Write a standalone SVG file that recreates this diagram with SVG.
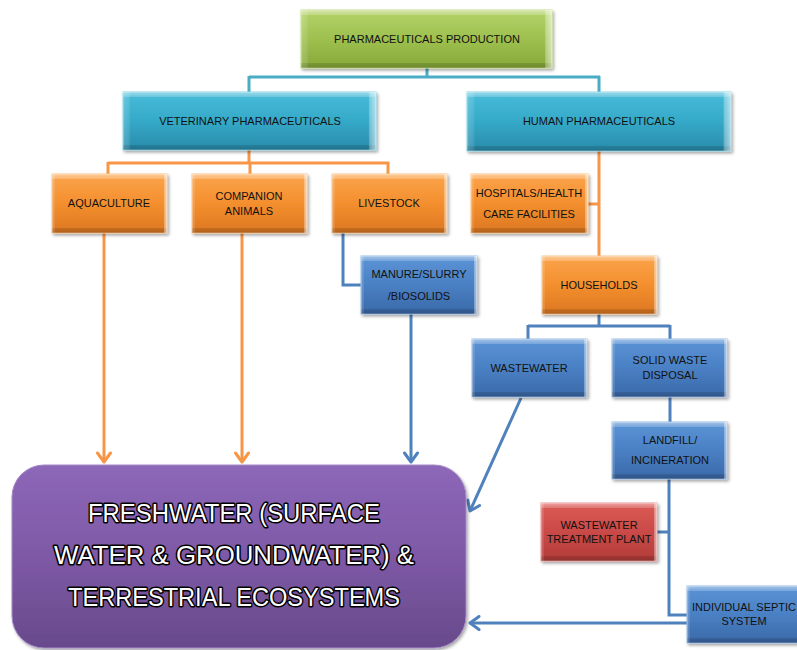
<svg xmlns="http://www.w3.org/2000/svg" width="797" height="650" viewBox="0 0 797 650">
  <style>
    .lbl { font-family: "Liberation Sans", Arial, sans-serif; font-size: 11px; fill: #111111; text-anchor: middle; }
    .big { font-family: "Liberation Sans", Arial, sans-serif; font-size: 25px; fill: #ffffff; stroke: #000000; stroke-width: 3px; paint-order: stroke; text-anchor: middle; stroke-linejoin: round; }
    .box { filter: url(#shadow); }
    .bv { fill: url(#bevelV); pointer-events: none; }
    .bh { fill: url(#bevelH); pointer-events: none; }
    .teal-line { stroke: #4bacc6; stroke-width: 3; fill: none; }
    .orange-line { stroke: #f79646; stroke-width: 3; fill: none; }
    .blue-line { stroke: #4f81bd; stroke-width: 3; fill: none; }
  </style>
  <defs>
    <filter id="shadow" x="-10%" y="-10%" width="125%" height="130%">
      <feDropShadow dx="1.5" dy="2" stdDeviation="1.5" flood-color="#000" flood-opacity="0.35"/>
    </filter>
    <!-- bevel overlays: light top edge, dark bottom edge, light side edges -->
    <linearGradient id="bevelV" x1="0" y1="0" x2="0" y2="1">
      <stop offset="0" stop-color="#fff" stop-opacity="0.45"/>
      <stop offset="0.08" stop-color="#fff" stop-opacity="0.2"/>
      <stop offset="0.09" stop-color="#fff" stop-opacity="0"/>
      <stop offset="0.91" stop-color="#000" stop-opacity="0"/>
      <stop offset="0.92" stop-color="#000" stop-opacity="0.12"/>
      <stop offset="1" stop-color="#000" stop-opacity="0.2"/>
    </linearGradient>
    <linearGradient id="bevelH" x1="0" y1="0" x2="1" y2="0">
      <stop offset="0" stop-color="#fff" stop-opacity="0.2"/>
      <stop offset="0.025" stop-color="#fff" stop-opacity="0.1"/>
      <stop offset="0.03" stop-color="#fff" stop-opacity="0"/>
      <stop offset="0.97" stop-color="#fff" stop-opacity="0"/>
      <stop offset="0.975" stop-color="#fff" stop-opacity="0.3"/>
      <stop offset="1" stop-color="#fff" stop-opacity="0.6"/>
    </linearGradient>
    <linearGradient id="gGreen" x1="0" y1="0" x2="0" y2="1">
      <stop offset="0" stop-color="#b4d36a"/>
      <stop offset="0.5" stop-color="#9dc04f"/>
      <stop offset="1" stop-color="#86a93a"/>
    </linearGradient>
    <linearGradient id="gTeal" x1="0" y1="0" x2="0" y2="1">
      <stop offset="0" stop-color="#48bcd9"/>
      <stop offset="0.5" stop-color="#35a9c8"/>
      <stop offset="1" stop-color="#2a8bab"/>
    </linearGradient>
    <linearGradient id="gOrange" x1="0" y1="0" x2="0" y2="1">
      <stop offset="0" stop-color="#fba44c"/>
      <stop offset="0.5" stop-color="#f48f2e"/>
      <stop offset="1" stop-color="#dc7722"/>
    </linearGradient>
    <linearGradient id="gBlue" x1="0" y1="0" x2="0" y2="1">
      <stop offset="0" stop-color="#5b94d6"/>
      <stop offset="0.5" stop-color="#4a80c4"/>
      <stop offset="1" stop-color="#3a69a8"/>
    </linearGradient>
    <linearGradient id="gRed" x1="0" y1="0" x2="0" y2="1">
      <stop offset="0" stop-color="#dc5a56"/>
      <stop offset="0.5" stop-color="#c94a47"/>
      <stop offset="1" stop-color="#b23c39"/>
    </linearGradient>
    <linearGradient id="gPurple" x1="0" y1="0" x2="0" y2="1">
      <stop offset="0" stop-color="#8d67b8"/>
      <stop offset="0.5" stop-color="#7e59a6"/>
      <stop offset="1" stop-color="#684a8b"/>
    </linearGradient>
    <marker id="arrOrange" markerUnits="userSpaceOnUse" markerWidth="16" markerHeight="16" refX="12" refY="8" orient="auto">
      <path d="M3 1.5 L12 8 L3 14.5" fill="none" stroke="#f79646" stroke-width="3" stroke-linejoin="round" stroke-linecap="round"/>
    </marker>
    <marker id="arrBlue" markerUnits="userSpaceOnUse" markerWidth="16" markerHeight="16" refX="12" refY="8" orient="auto">
      <path d="M3 1.5 L12 8 L3 14.5" fill="none" stroke="#4f81bd" stroke-width="3" stroke-linejoin="round" stroke-linecap="round"/>
    </marker>
  </defs>

  <rect width="797" height="650" fill="#ffffff"/>

  <!-- connectors -->
  <g id="connectors">
    <path class="teal-line" d="M427 68 V77 M249 77 H600 M249 76 V92 M599 76 V92"/>
    <path class="orange-line" d="M249 150 V163 M108 163 H389 M108 162 V174 M250 162 V174 M388 162 V174"/>
    <path class="orange-line" d="M599 151 V256 M588 204 H599"/>
    <path class="orange-line" d="M104 233 V462" marker-end="url(#arrOrange)"/>
    <path class="orange-line" d="M242 233 V462" marker-end="url(#arrOrange)"/>
    <path class="blue-line" d="M343 233 V285 H361"/>
    <path class="blue-line" d="M411 314 V462" marker-end="url(#arrBlue)"/>
    <path class="blue-line" d="M599 314 V326 M528 326 H670 M528 325 V339 M670 325 V339"/>
    <path class="blue-line" d="M670 397 V422"/>
    <path class="blue-line" d="M521 398 L470 511" marker-end="url(#arrBlue)"/>
    <path class="blue-line" d="M669 479 V615 H687 M657 532 H669"/>
    <path class="blue-line" d="M687 623 H470" marker-end="url(#arrBlue)"/>
  </g>

  <!-- nodes -->
  <g id="pharma-production">
    <rect class="box" x="301" y="10" width="251" height="58" fill="url(#gGreen)" stroke="#c9e08f" stroke-width="1"/>
    <rect class="bv" x="301" y="10" width="251" height="58"/>
    <rect class="bh" x="301" y="10" width="251" height="58"/>
    <text class="lbl" x="427" y="43">PHARMACEUTICALS PRODUCTION</text>
  </g>

  <g id="veterinary">
    <rect class="box" x="123" y="92" width="253" height="58" fill="url(#gTeal)" stroke="#8fd7ea" stroke-width="1"/>
    <rect class="bv" x="123" y="92" width="253" height="58"/>
    <rect class="bh" x="123" y="92" width="253" height="58"/>
    <text class="lbl" x="250" y="125">VETERINARY PHARMACEUTICALS</text>
  </g>

  <g id="human">
    <rect class="box" x="467" y="92" width="264" height="59" fill="url(#gTeal)" stroke="#8fd7ea" stroke-width="1"/>
    <rect class="bv" x="467" y="92" width="264" height="59"/>
    <rect class="bh" x="467" y="92" width="264" height="59"/>
    <text class="lbl" x="599" y="125">HUMAN PHARMACEUTICALS</text>
  </g>

  <g id="aquaculture">
    <rect class="box" x="52" y="174" width="115" height="59" fill="url(#gOrange)" stroke="#fcc58d" stroke-width="1"/>
    <rect class="bv" x="52" y="174" width="115" height="59"/>
    <rect class="bh" x="52" y="174" width="115" height="59"/>
    <text class="lbl" x="109" y="207">AQUACULTURE</text>
  </g>

  <g id="companion">
    <rect class="box" x="192" y="174" width="115" height="59" fill="url(#gOrange)" stroke="#fcc58d" stroke-width="1"/>
    <rect class="bv" x="192" y="174" width="115" height="59"/>
    <rect class="bh" x="192" y="174" width="115" height="59"/>
    <text class="lbl" x="249" y="200">COMPANION</text>
    <text class="lbl" x="249" y="215">ANIMALS</text>
  </g>

  <g id="livestock">
    <rect class="box" x="332" y="174" width="115" height="59" fill="url(#gOrange)" stroke="#fcc58d" stroke-width="1"/>
    <rect class="bv" x="332" y="174" width="115" height="59"/>
    <rect class="bh" x="332" y="174" width="115" height="59"/>
    <text class="lbl" x="389" y="207">LIVESTOCK</text>
  </g>

  <g id="hospitals">
    <rect class="box" x="471" y="174" width="117" height="59" fill="url(#gOrange)" stroke="#fcc58d" stroke-width="1"/>
    <rect class="bv" x="471" y="174" width="117" height="59"/>
    <rect class="bh" x="471" y="174" width="117" height="59"/>
    <text class="lbl" x="529" y="197">HOSPITALS/HEALTH</text>
    <text class="lbl" x="529" y="218">CARE FACILITIES</text>
  </g>

  <g id="households">
    <rect class="box" x="542" y="256" width="115" height="58" fill="url(#gOrange)" stroke="#fcc58d" stroke-width="1"/>
    <rect class="bv" x="542" y="256" width="115" height="58"/>
    <rect class="bh" x="542" y="256" width="115" height="58"/>
    <text class="lbl" x="599" y="289">HOUSEHOLDS</text>
  </g>

  <g id="manure">
    <rect class="box" x="361" y="256" width="116" height="58" fill="url(#gBlue)" stroke="#9ebfe6" stroke-width="1"/>
    <rect class="bv" x="361" y="256" width="116" height="58"/>
    <rect class="bh" x="361" y="256" width="116" height="58"/>
    <text class="lbl" x="419" y="278">MANURE/SLURRY</text>
    <text class="lbl" x="419" y="300">/BIOSOLIDS</text>
  </g>

  <g id="wastewater">
    <rect class="box" x="472" y="339" width="115" height="58" fill="url(#gBlue)" stroke="#9ebfe6" stroke-width="1"/>
    <rect class="bv" x="472" y="339" width="115" height="58"/>
    <rect class="bh" x="472" y="339" width="115" height="58"/>
    <text class="lbl" x="529" y="372">WASTEWATER</text>
  </g>

  <g id="solid-waste">
    <rect class="box" x="612" y="339" width="115" height="58" fill="url(#gBlue)" stroke="#9ebfe6" stroke-width="1"/>
    <rect class="bv" x="612" y="339" width="115" height="58"/>
    <rect class="bh" x="612" y="339" width="115" height="58"/>
    <text class="lbl" x="670" y="364">SOLID WASTE</text>
    <text class="lbl" x="670" y="379">DISPOSAL</text>
  </g>

  <g id="landfill">
    <rect class="box" x="612" y="422" width="115" height="57" fill="url(#gBlue)" stroke="#9ebfe6" stroke-width="1"/>
    <rect class="bv" x="612" y="422" width="115" height="57"/>
    <rect class="bh" x="612" y="422" width="115" height="57"/>
    <text class="lbl" x="670" y="444">LANDFILL/</text>
    <text class="lbl" x="670" y="464">INCINERATION</text>
  </g>

  <g id="treatment-plant">
    <rect class="box" x="541" y="503" width="116" height="58" fill="url(#gRed)" stroke="#eb9c99" stroke-width="1"/>
    <rect class="bv" x="541" y="503" width="116" height="58"/>
    <rect class="bh" x="541" y="503" width="116" height="58"/>
    <text class="lbl" x="599" y="529">WASTEWATER</text>
    <text class="lbl" x="599" y="543">TREATMENT PLANT</text>
  </g>

  <g id="septic">
    <rect class="box" x="687" y="586" width="115" height="57" fill="url(#gBlue)" stroke="#9ebfe6" stroke-width="1"/>
    <rect class="bv" x="687" y="586" width="115" height="57"/>
    <rect class="bh" x="687" y="586" width="115" height="57"/>
    <text class="lbl" x="744" y="611">INDIVIDUAL SEPTIC</text>
    <text class="lbl" x="744" y="625">SYSTEM</text>
  </g>

  <g id="freshwater">
    <rect class="box" x="12" y="465" width="454" height="183" rx="32" ry="32" fill="url(#gPurple)" stroke="#a58bc6" stroke-width="1"/>
    <text class="big" x="234" y="522" textLength="292" lengthAdjust="spacingAndGlyphs">FRESHWATER (SURFACE</text>
    <text class="big" x="234" y="564" textLength="360" lengthAdjust="spacingAndGlyphs">WATER &amp; GROUNDWATER) &amp;</text>
    <text class="big" x="234" y="606" textLength="332" lengthAdjust="spacingAndGlyphs">TERRESTRIAL ECOSYSTEMS</text>
  </g>
</svg>
